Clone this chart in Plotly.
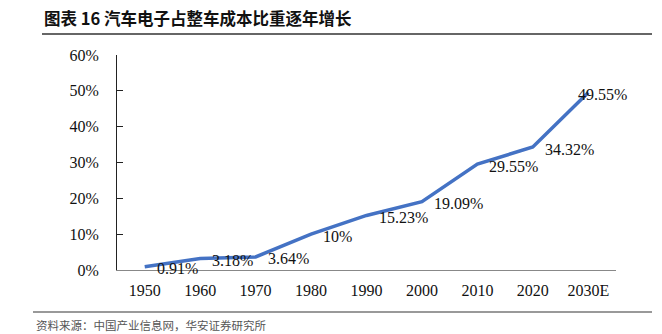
import plotly.graph_objects as go

categories = ["1950", "1960", "1970", "1980", "1990", "2000", "2010", "2020", "2030E"]
share = [0.0091, 0.0318, 0.0364, 0.10, 0.1523, 0.1909, 0.2955, 0.3432, 0.4955]
labels = ["0.91%", "3.18%", "3.64%", "10%", "15.23%", "19.09%", "29.55%", "34.32%", "49.55%"]
y_ticks = [0, 0.1, 0.2, 0.3, 0.4, 0.5, 0.6]
y_tick_text = ["0%", "10%", "20%", "30%", "40%", "50%", "60%"]

title_text = "图表 16 汽车电子占整车成本比重逐年增长"
source_text = "资料来源：中国产业信息网，华安证券研究所"

W, H = 662, 334
L, R, T, B = 117, 46, 55, 64
pw = W - L - R
ph = H - T - B

def px_x(x):
    return (x - L) / pw

def px_y(y):
    return (H - B - y) / ph

serif = "Liberation Serif, Times New Roman, serif"

fig = go.Figure()
fig.add_trace(go.Scatter(
    x=categories, y=share, mode="lines",
    line=dict(color="#4472C4", width=3.5),
    hoverinfo="skip", showlegend=False,
))

annotations = []
for i, (v, t) in enumerate(zip(share, labels)):
    last = i == len(categories) - 1
    annotations.append(dict(
        x=i, y=v, xref="x", yref="y", text=t, showarrow=False,
        xanchor="left", yanchor="middle",
        xshift=-12 if last else 10, yshift=-2,
        font=dict(family=serif, size=16, color="#111111"),
    ))

annotations.append(dict(
    x=px_x(42), y=px_y(18), xref="paper", yref="paper", text="<b>" + title_text + "</b>",
    showarrow=False, xanchor="left", yanchor="middle",
    font=dict(family="Noto Sans CJK SC, sans-serif", size=16.5, color="#111111"),
))
annotations.append(dict(
    x=px_x(34), y=px_y(325), xref="paper", yref="paper", text=source_text,
    showarrow=False, xanchor="left", yanchor="middle",
    font=dict(family="Noto Sans CJK SC, sans-serif", size=11.5, color="#555555"),
))

shapes = [
    dict(type="line", xref="paper", yref="paper", x0=px_x(42), x1=px_x(652),
         y0=px_y(34), y1=px_y(34), line=dict(color="#333333", width=1.5)),
    dict(type="line", xref="paper", yref="paper", x0=px_x(33), x1=px_x(652),
         y0=px_y(312), y1=px_y(312), line=dict(color="#777777", width=1.5)),
]

fig.update_layout(
    width=W, height=H,
    margin=dict(l=L, r=R, t=T, b=B, pad=0),
    paper_bgcolor="white", plot_bgcolor="white",
    annotations=annotations, shapes=shapes,
    xaxis=dict(
        type="category", range=[-0.5, 8.5], showgrid=False, zeroline=False,
        showline=True, linecolor="#888888", linewidth=1.2, ticks="",
        tickfont=dict(family=serif, size=16, color="#111111"),
        ticklabelstandoff=6,
    ),
    yaxis=dict(
        range=[0, 0.6], tickvals=y_ticks, ticktext=y_tick_text, showgrid=False,
        zeroline=False, showline=True, linecolor="#222222", linewidth=1,
        ticks="inside", ticklen=6, tickcolor="#222222",
        tickfont=dict(family=serif, size=16, color="#111111"),
        ticklabelstandoff=14,
    ),
)

fig.write_html("out.html")
